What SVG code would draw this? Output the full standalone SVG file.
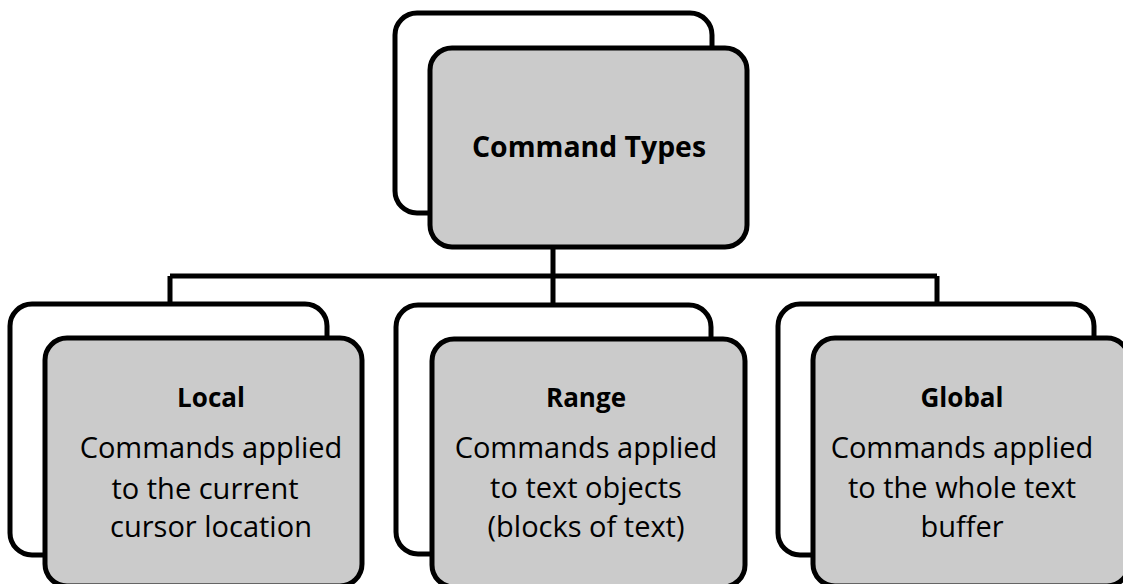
<svg xmlns="http://www.w3.org/2000/svg" width="1123" height="584" viewBox="0 0 1123 584">
<style>
.back{fill:#ffffff;stroke:#000;stroke-width:5}
.front{fill:#cbcbcb;stroke:#000;stroke-width:5}
.conn{fill:none;stroke:#000;stroke-width:5}
.t{font-family:"Open Sans","Liberation Sans",Arial,sans-serif;fill:#000;text-anchor:middle}
.b{font-weight:bold;font-size:26px}
.r{font-size:29px}
</style>
<rect width="1123" height="584" fill="#fff"/>
<g id="connectors">
<path class="conn" d="M553,247 V306 M170,276 H937 M170,276 V304 M937,276 V304"/>
</g>
<g id="command-types">
<rect class="back" x="395" y="13" width="317" height="200" rx="22"/>
<rect class="front" x="430" y="48" width="317" height="199" rx="22"/>
<text class="t" x="589" y="157" font-weight="bold" font-size="28.4">Command Types</text>
</g>
<g id="local">
<rect class="back" x="10" y="304" width="317" height="251" rx="22"/>
<rect class="front" x="45" y="338" width="317" height="248" rx="22"/>
<text class="t b" x="211" y="407">Local</text>
<text class="t r" x="211" y="458">Commands applied</text>
<text class="t r" x="205" y="499">to the current</text>
<text class="t r" x="211" y="537">cursor location</text>
</g>
<g id="range">
<rect class="back" x="396" y="305" width="315" height="249" rx="22"/>
<rect class="front" x="432" y="339" width="313" height="248" rx="22"/>
<text class="t b" x="586" y="407">Range</text>
<text class="t r" x="586" y="458">Commands applied</text>
<text class="t r" x="586" y="498">to text objects</text>
<text class="t r" x="586" y="537">(blocks of text)</text>
</g>
<g id="global">
<rect class="back" x="778" y="304" width="316" height="251" rx="22"/>
<rect class="front" x="813" y="338" width="316" height="248" rx="22"/>
<text class="t b" x="962" y="407">Global</text>
<text class="t r" x="962" y="458">Commands applied</text>
<text class="t r" x="962" y="498">to the whole text</text>
<text class="t r" x="962" y="537">buffer</text>
</g>
</svg>
